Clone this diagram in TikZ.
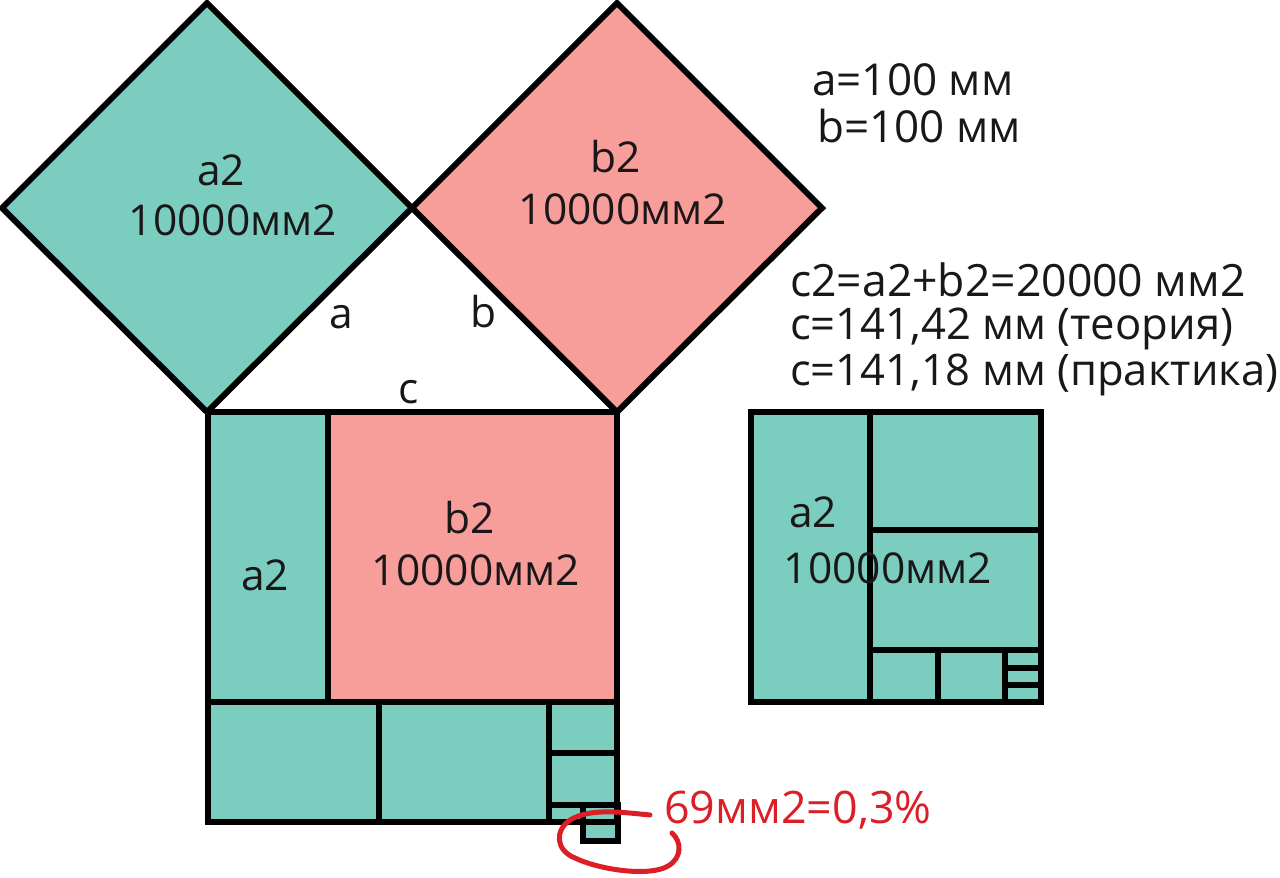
\documentclass[tikz,border=0pt]{standalone}
\usepackage{fontspec}
\setmainfont{Open Sans}
\definecolor{teal1}{HTML}{7BCDBF}
\definecolor{pink1}{HTML}{F79E9B}
\definecolor{red1}{HTML}{DB1F26}
\definecolor{ink}{HTML}{1A1718}
\tikzset{
  shape1/.style={draw=black,line width=6pt,line join=miter,fill=#1},
  rule1/.style={draw=black,line width=6pt},
  lab/.style={font=\fontsize{42.5}{52}\selectfont,text=ink,inner sep=0pt,anchor=base},
  lab2/.style={font=\fontsize{#1}{44}\selectfont,text=ink,inner sep=0pt,anchor=base west},
}
\begin{document}
\begin{tikzpicture}[x=1pt,y=-1pt]
\useasboundingbox (0,0) rectangle (1280,878);
% diamonds
\draw[shape1=teal1] (207,412) -- (412,208) -- (207,3) -- (2,208) -- cycle;
\draw[shape1=pink1] (617,412) -- (822,208) -- (617,3) -- (412,208) -- cycle;
% big square
\fill[teal1] (208,412) rectangle (617,822);
\fill[pink1] (328,412) rectangle (617,702);
\draw[shape1=teal1] (583,805) rectangle (618,841);
\draw[rule1] (208,412) rectangle (617,822);
\draw[rule1] (328,412) -- (328,702);
\draw[rule1] (208,702) -- (617,702);
\draw[rule1] (379,702) -- (379,822);
\draw[rule1] (549,702) -- (549,822);
\draw[rule1] (549,753) -- (617,753);
\draw[rule1] (549,805) -- (617,805);
% small square
\draw[shape1=teal1] (751,412) rectangle (1041,702);
\draw[rule1] (870,412) -- (870,702);
\draw[rule1] (870,530) -- (1041,530);
\draw[rule1] (870,650) -- (1041,650);
\draw[rule1] (938,650) -- (938,702);
\draw[rule1] (1005,650) -- (1005,702);
\draw[rule1] (1005,668) -- (1041,668);
\draw[rule1] (1005,685) -- (1041,685);
% labels
\node[lab] (t1a) at (221,185) {a2};
\node[lab] (t1b) at (233,235) {10000мм2};
\node[lab] (t2a) at (616,172) {b2};
\node[lab] (t2b) at (623,224) {10000мм2};
\node[lab] (t3a) at (470,533) {b2};
\node[lab] (t3b) at (476,585) {10000мм2};
\node[lab] (t4a) at (813,527) {a2};
\node[lab] (t4b) at (888,583) {10000мм2};
\node[lab] (t5) at (265,590) {a2};
\node[lab] (t6) at (341,328) {a};
\node[lab] (t7) at (484,327) {b};
\node[lab] (t8) at (409,403) {c};
\node[lab2=44] (r1) at (812,95) {a=100 мм};
\node[lab2=44] (r2) at (817,142) {b=100 мм};
\node[lab2=44.5] (r3) at (790,296) {c2=a2+b2=20000 мм2};
\node[lab2=43.6] (r4) at (790,339) {c=141,42 мм (теория)};
\node[lab2=43.5] (r5) at (790,385) {c=141,18 мм (практика)};
\node[lab2=44.8,text=red1] (r6) at (664,823) {69мм2=0,3\%};
% red loop
\draw[red1,line width=5pt,line cap=round] (650,815) .. controls (620,812) and (590,808) .. (570,820)
  .. controls (555,830) and (555,850) .. (575,858)
  .. controls (600,870) and (650,877) .. (668,866)
  .. controls (682,858) and (682,842) .. (672,833);
\end{tikzpicture}
\end{document}
